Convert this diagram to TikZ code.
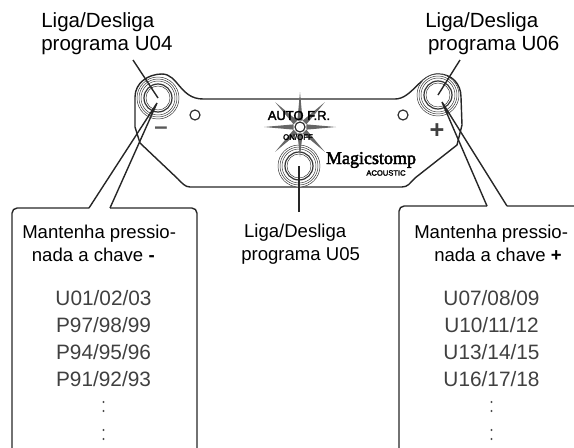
\documentclass[tikz,border=0pt]{standalone}
\usepackage{fontspec}
\setmainfont{Liberation Sans}
\newfontfamily\logofont[FakeBold=2.5]{Liberation Serif}
\newfontfamily\panelfont[FakeBold=2.5]{Liberation Sans}
\usetikzlibrary{positioning}
\tikzset{
  outline/.style={line width=0.35mm, color=black!85},
  pointer/.style={line width=0.35mm, color=black!85},
  ring/.style={line width=0.12mm, color=black!80},
  jack/.style={line width=0.3mm, color=black!80},
  spike/.style={fill=black!60, draw=none},
  headlabel/.style={align=left, anchor=north west, inner sep=0pt, font=\fontsize{14.6}{17}\selectfont},
  holdlabel/.style={align=left, anchor=north west, inner sep=0pt, font=\fontsize{13.2}{16}\selectfont},
  listlabel/.style={align=center, anchor=north, inner sep=0pt, text=black!75, font=\fontsize{14.8}{19.2}\selectfont},
}
\begin{document}
\begin{tikzpicture}[x=0.025cm, y=-0.025cm]
\useasboundingbox (0,0) rectangle (574,448);
% pedal outline
\draw[outline] (135,127) -- (135,97) .. controls (135,83) and (148,74) .. (162,74)
    .. controls (178,74) and (180,99) .. (203,99) -- (395,99)
    .. controls (412,99) and (420,74) .. (438,74)
    .. controls (452,74) and (461,84) .. (461,97) -- (462,125) -- (457,145)
    -- (415,178) .. controls (410,183) and (408,187) .. (402,187) -- (190,187)
    .. controls (185,187) and (182,183) .. (178,179) -- (140,143) -- (135,127);
% footswitches
\foreach \name/\cx/\cy in {lsw/158/98, msw/299/166, rsw/438/95} {
  \coordinate (\name) at (\cx,\cy);
  \fill[white] (\name) circle (21);
  \foreach \r in {21,19,17} \draw[ring] (\name) circle (\r);
  \draw[jack] (\name) circle (14);
  \draw[ring] (\name) circle (12);
}
% screws and led
\coordinate (led) at (300,127);
\foreach \name/\cx/\cy in {lhole/195/115, rhole/403/115}
  \draw[jack] (\cx,\cy) circle (5) coordinate (\name);
% led spikes
\foreach \a/\l in {0/36, 45/35, 90/30, 135/35, 180/36, 225/35, 270/35, 315/35}
  \fill[spike] ([shift={(\a+22:7)}]led) -- ([shift={(\a:\l)}]led) -- ([shift={(\a-22:7)}]led) -- cycle;
\draw[jack] (led) circle (5);
% panel texts
\node[inner sep=0pt, font=\fontsize{9.2}{10}\selectfont\panelfont] (autofr) at (299,115.5) {AUTO F.R.};
\node[inner sep=0pt, font=\fontsize{5.6}{6}\selectfont\panelfont] (onoff) at (298,137) {ON/OFF};
\node[inner sep=0pt, font=\fontsize{12.8}{13}\selectfont\logofont] (logo) at (371,160) {Magicstomp};
\node[inner sep=0pt, font=\fontsize{5.4}{6}\selectfont\panelfont] (acoustic) at (386,173) {ACOUSTIC};
\node[inner sep=0pt, font=\fontsize{17}{17}\selectfont\bfseries, text=black!65] (minus) at (161,131) {--};
\node[inner sep=0pt, font=\fontsize{18}{18}\selectfont\bfseries, text=black!75] (plus) at (437,131) {+};
% callout boxes
\draw[outline, rounded corners=0.13cm] (89,208) -- (12,208) -- (12,470) -- (197,470) -- (197,208) -- (110,208);
\draw[outline, rounded corners=0.13cm] (487,206) -- (399,206) -- (399,470) -- (590,470) -- (590,206) -- (507,206);
\coordinate (ltip) at (157,103);
\coordinate (rtip) at (442,102);
\draw[pointer] (89,208) -- (ltip) -- (110,208);
\draw[pointer] (487,206) -- (rtip) -- (507,206);
% labels
\node[headlabel] (u04) at (41,12) {Liga/Desliga\\[-0.5pt]programa U04};
\node[headlabel] (u06) at (425,12) {Liga/Desliga\\[-0.5pt]\hspace{0.7mm}programa U06};
\node[holdlabel] (u05) at (241,224) {\hspace{0.7mm}Liga/Desliga\\programa U05};
\coordinate (u04end) at (133,60);
\coordinate (u06end) at (460,60);
\coordinate (u05end) at (299,212);
\draw[pointer] (u04end) -- (lsw);
\draw[pointer] (u06end) -- (rsw);
\draw[pointer] (u05end) -- (msw);
\node[holdlabel] (holdl) at (22,225) {Mantenha pressio-\\\hspace{2.4mm}nada a chave \textbf{-}};
\node[holdlabel] (holdr) at (414,225) {Mantenha pressio-\\\hspace{5mm}nada a chave \textbf{+}};
\node[listlabel] (listl) at (103.5,290) {U01/02/03\\P97/98/99\\P94/95/96\\P91/92/93};
\node[listlabel] (listr) at (491.5,290) {U07/08/09\\U10/11/12\\U13/14/15\\U16/17/18};
\foreach \cx in {103.5, 491.5}
  \foreach \cy in {402,411,430,439}
    \fill[black!70] (\cx,\cy) circle (1.1);
\end{tikzpicture}
\end{document}
